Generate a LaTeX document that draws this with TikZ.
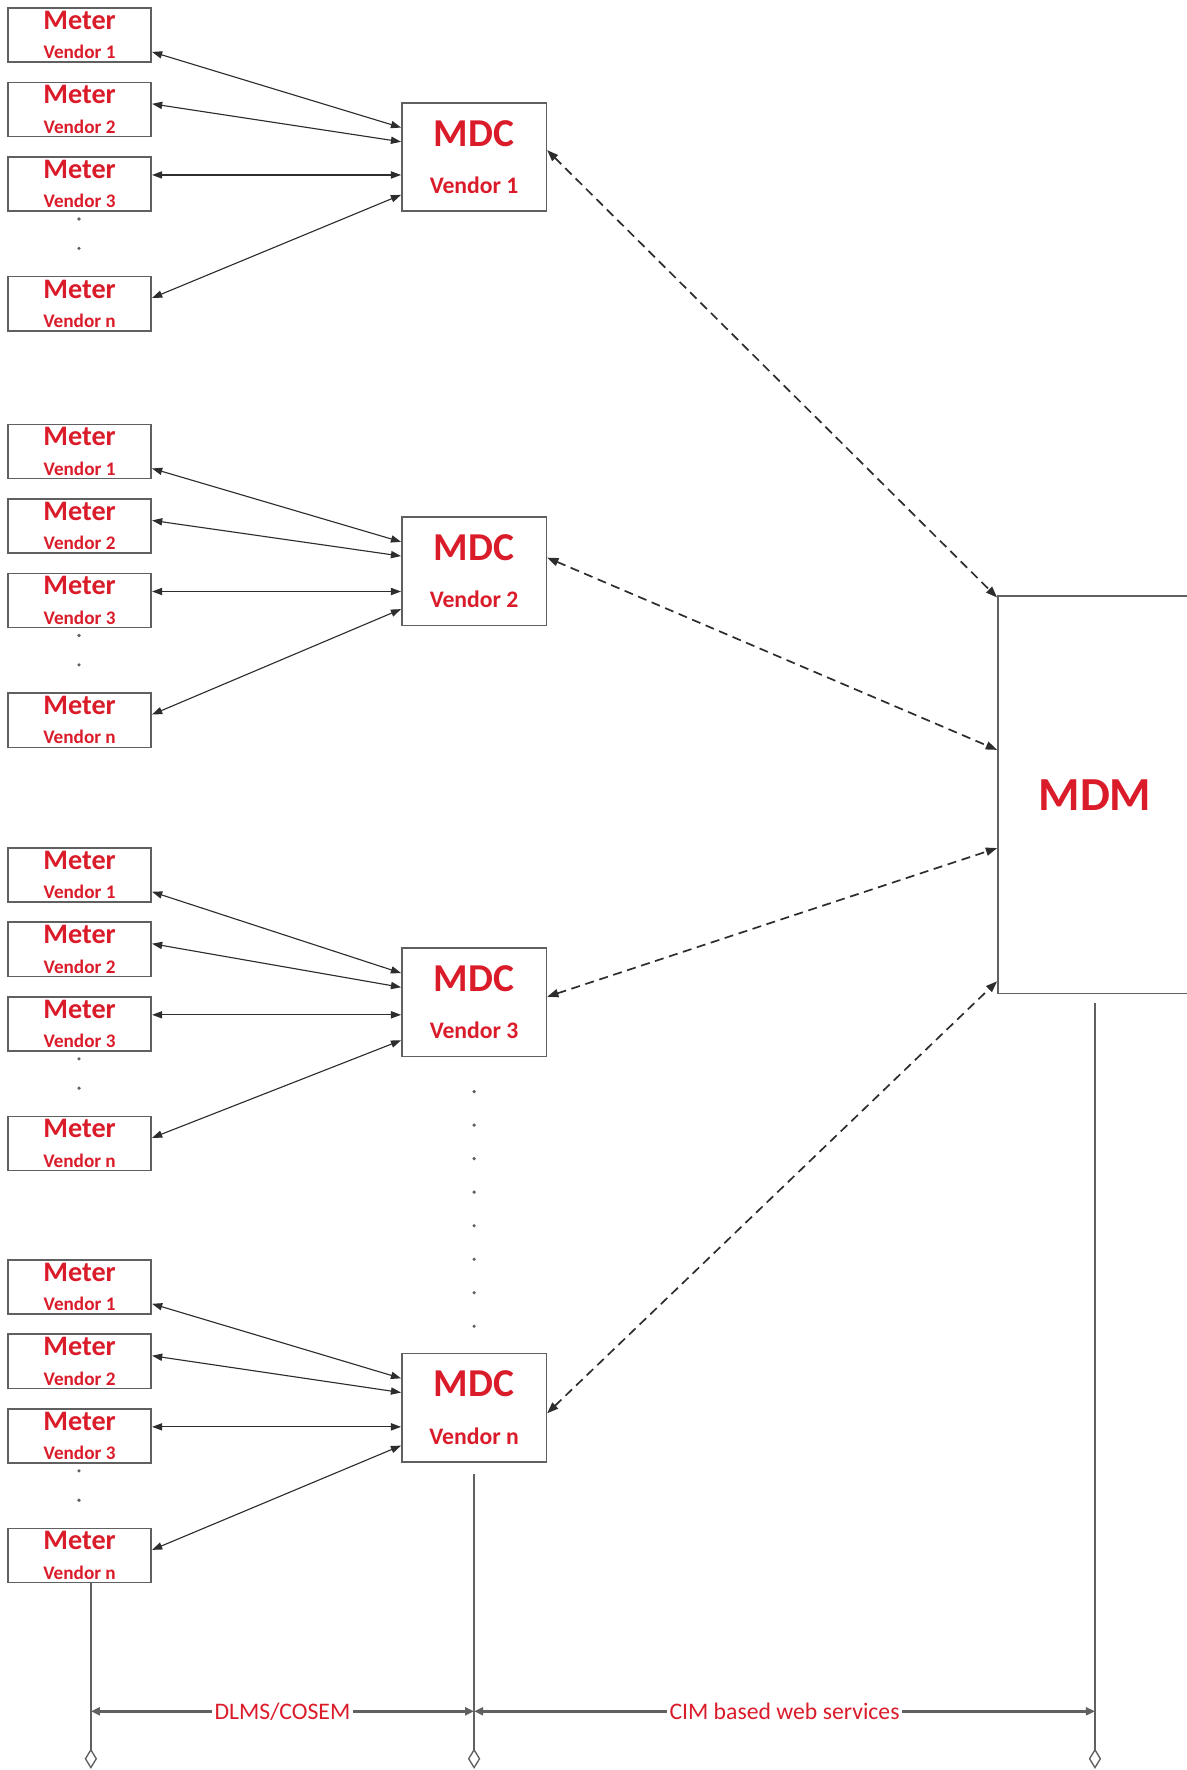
\documentclass[tikz,border=0pt]{standalone}
\usepackage{fontspec}
\setmainfont{Carlito}
\usetikzlibrary{arrows.meta}
\definecolor{vendred}{RGB}{218,28,42}
\definecolor{edgegray}{RGB}{96,96,96}
\definecolor{wiregray}{RGB}{45,45,45}
\tikzset{
  meterbox/.style={draw=edgegray, line width=0.7pt, minimum width=63.5pt, minimum height=24pt,
    inner sep=0pt, align=center, text=vendred, font=\bfseries\fontsize{8.5}{13}\selectfont},
  mdcbox/.style={draw=edgegray, line width=0.7pt, minimum width=64pt, minimum height=48pt,
    inner sep=0pt, align=center, text=vendred, font=\bfseries\fontsize{10.5}{21}\selectfont},
  mdmbox/.style={draw=edgegray, line width=0.7pt, minimum width=86pt, minimum height=176pt,
    inner sep=0pt, text=vendred, font=\bfseries\fontsize{21}{24}\selectfont},
  link/.style={wiregray, line width=0.5pt,
    {Triangle[length=4.5pt,width=3.2pt]}-{Triangle[length=4.5pt,width=3.2pt]}},
  webline/.style={wiregray, line width=0.75pt, dash pattern=on 4pt off 2.5pt,
    {Triangle[length=5pt,width=3.6pt]}-{Triangle[length=5pt,width=3.6pt]}},
  lifeline/.style={edgegray, line width=0.6pt, -{Diamond[open,length=9pt,width=5.5pt]}},
  span/.style={edgegray, line width=1.1pt,
    {Triangle[length=4pt,width=3.5pt]}-{Triangle[length=4pt,width=3.5pt]}},
  spanlabel/.style={fill=white, text=vendred, inner sep=1pt, font=\fontsize{10.5}{12}\selectfont},
}
\begin{document}
\begin{tikzpicture}[x=0.5pt,y=-0.5pt]
\useasboundingbox (0,0) rectangle (1051,1568); % page size
\node[mdmbox] (mdm) at (970,704) {MDM};
\foreach \g/\top/\cy/\lab/\sy/\dy in {1/7/139/1/3pt/1pt, 2/376/506/2/6pt/68.5pt,
    3/751/888/3/2.5pt/112pt, 4/1116/1247/n/-2.5pt/171pt}{
  \node[meterbox] (m\g1) at (70.5,\top+24)  {{\fontsize{12.5}{13}\selectfont Meter}\\Vendor 1};
  \node[meterbox] (m\g2) at (70.5,\top+90)  {{\fontsize{12.5}{13}\selectfont Meter}\\Vendor 2};
  \node[meterbox] (m\g3) at (70.5,\top+156) {{\fontsize{12.5}{13}\selectfont Meter}\\Vendor 3};
  \node[meterbox] (m\g4) at (70.5,\top+262) {{\fontsize{12.5}{13}\selectfont Meter}\\Vendor n};
  \fill[edgegray] (70,\top+187) circle (0.8pt) (70,\top+213) circle (0.8pt);
  \node[mdcbox] (c\g) at (420,\cy) {{\fontsize{17.5}{21}\selectfont MDC}\\Vendor \lab};
  \draw[link] ([yshift=-7.5pt]m\g1.east) -- ([yshift=13pt]c\g.west);
  \draw[link] ([yshift=2.5pt]m\g2.east) -- ([yshift=6.7pt]c\g.west);
  \coordinate (h\g) at ([yshift=4pt]m\g3.east);
  \draw[link] (h\g) -- (h\g -| c\g.west);
  \draw[link] ([yshift=2.5pt]m\g4.east) -- ([yshift=-16.8pt]c\g.west);
  \draw[webline] ([yshift=\sy]c\g.east) -- ([yshift=-\dy]mdm.north west);
}
\foreach \k in {0,...,7}
  \fill[edgegray] (420,967+29.7*\k) circle (0.8pt);
% protocol spans
\coordinate (bot) at (0,1567);
\coordinate (dim) at (0,1516);
\coordinate (t1) at ([xshift=5pt]m44.south);
\coordinate (t2) at ([yshift=-5pt]c4.south);
\coordinate (t3) at ([yshift=-4pt]mdm.south);
\draw[lifeline] (t1) -- (t1 |- bot);
\draw[lifeline] (t2) -- (t2 |- bot);
\draw[lifeline] (t3) -- (t3 |- bot);
\draw[span] (t1 |- dim) -- (t2 |- dim) node[spanlabel, midway] (dlms) {DLMS/COSEM};
\draw[span] (t2 |- dim) -- (t3 |- dim) node[spanlabel, midway] (cim) {CIM based web services};
\end{tikzpicture}
\end{document}
